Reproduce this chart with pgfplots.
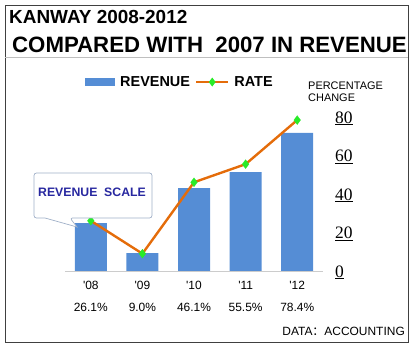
\documentclass[border=0pt]{standalone}
\usepackage{pgfplots}
\pgfplotsset{compat=1.18}
\usepackage{fontspec}
\setmainfont{Liberation Sans}
\newfontfamily\seriffont{Liberation Serif}
\newfontfamily\cjk{Noto Sans CJK SC}
\definecolor{barblue}{RGB}{85,141,213}
\definecolor{lineorange}{RGB}{228,108,10}
\definecolor{mkgreen}{RGB}{40,235,40}
\definecolor{callborder}{RGB}{160,176,200}
\definecolor{calltext}{RGB}{40,40,160}
\begin{document}
\begin{tikzpicture}
\path[use as bounding box] (0,0) rectangle (416bp,352bp);
\draw[black!75, line width=0.8bp] (5bp,10bp) rectangle (408bp,347bp);
\draw[black!25, line width=0.6bp] (5bp,295bp) -- (408bp,295bp);
\node[anchor=west, font=\bfseries\fontsize{19}{21}\selectfont, inner sep=0] at (9bp,335bp) {KANWAY 2008-2012};
\node[anchor=west, font=\bfseries\fontsize{22.3}{24}\selectfont, inner sep=0] at (12bp,307bp) {COMPARED WITH\ \ 2007 IN REVENUE};
\begin{axis}[
  scale only axis, width=258bp, height=154bp,
  at={(65bp,81bp)}, anchor=south west,
  xmin=-0.5, xmax=4.5, ymin=0, ymax=80,
  clip=false,
  axis line style={draw=none},
  tick style={draw=none}, major tick length=0,
  xtick={0,1,2,3,4},
  xticklabels={{\textquotesingle08\\26.1\%},{\textquotesingle09\\9.0\%},{\textquotesingle10\\46.1\%},{\textquotesingle11\\55.5\%},{\textquotesingle12\\78.4\%}},
  xticklabel style={align=center, anchor=north, inner sep=0, yshift=-10bp, font=\fontsize{12}{22}\selectfont},
  ytick={0,20,40,60,80},
  yticklabel pos=right,
  yticklabels={\underline{0},\underline{20},\underline{40},\underline{60},\underline{80}},
  yticklabel style={anchor=base west, inner sep=0, xshift=12bp, yshift=-6bp, font=\seriffont\fontsize{17.5}{18}\selectfont},
  legend columns=2,
  legend style={at={(0.0775,1.227)}, anchor=west, draw=none, fill=none, inner sep=0pt,
    nodes={inner sep=0pt}, column sep=5bp, font=\bfseries\fontsize{14.5}{16}\selectfont},
]
\addplot[ybar, bar width=32bp, fill=barblue, draw=none,
  legend image code/.code={\fill[barblue] (0bp,-4bp) rectangle (30bp,4bp);}]
  coordinates {(0,24.9) (1,9.35) (2,43.1) (3,51.4) (4,71.7)};
\addlegendentry{REVENUE\hspace{8bp}}
\addplot[draw=lineorange, line width=2.4bp, mark=diamond*, mark size=4.5bp,
  mark options={fill=mkgreen, draw=mkgreen, line width=0.2bp},
  legend image code/.code={\draw[lineorange, line width=2.4bp] (0bp,0bp) -- (32bp,0bp);
    \path[draw=none, fill=mkgreen] (16bp,0bp) +(0,4.5bp) -- +(3.4bp,0) -- +(0,-4.5bp) -- +(-3.4bp,0) -- cycle;}]
  coordinates {(0,26.1) (1,9.0) (2,46.1) (3,55.5) (4,78.4)};
\addlegendentry{RATE}
\draw[black!20, line width=0.8bp] (rel axis cs:0,0) -- (rel axis cs:1,0);
\end{axis}
\draw[callborder, fill=white, line width=0.7bp, rounded corners=2.5bp]
  (34bp,179bp) -- (152bp,179bp) -- (152bp,134bp) -- (70bp,134bp) [sharp corners] -- (77bp,125bp) -- (45bp,134bp) [rounded corners=2.5bp] -- (34bp,134bp) -- cycle;
\node[font=\bfseries\fontsize{12.3}{14}\selectfont, text=calltext, inner sep=0] at (92bp,160bp) {REVENUE\ \ SCALE};
\node[anchor=north west, align=left, inner sep=0, font=\fontsize{11}{12}\selectfont] at (308bp,270bp) {PERCENTAGE\\CHANGE};
\node[anchor=east, inner sep=0, font=\fontsize{12}{14}\selectfont] at (405bp,21bp) {DATA{\cjk ：}ACCOUNTING};
\end{tikzpicture}
\end{document}
